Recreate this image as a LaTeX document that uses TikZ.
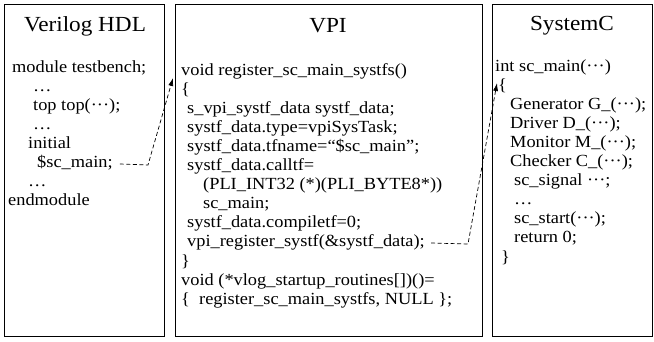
\documentclass[tikz,border=0pt]{standalone}
\usepackage{fontspec}
\setmainfont[FakeStretch=1.08]{Liberation Serif}
\usetikzlibrary{arrows.meta}
\tikzset{
  panel/.style={draw, line width=.9pt},
  title/.style={inner sep=0pt, font=\fontsize{21.5}{23}\selectfont},
  code/.style={anchor=west, inner sep=0pt, text height=12pt, text depth=4pt,
    font=\fontsize{17}{19}\selectfont},
  link/.style={line width=.7pt, dash pattern=on 4pt off 2.5pt,
    -{Latex[length=8pt,width=5pt]}},
}
\newcommand{\dd}{···}

\begin{document}
\begin{tikzpicture}[x=1pt,y=-1pt]
    \useasboundingbox (0,0) rectangle (654,342);
    \draw[panel] (4,4) rectangle (164,336);
    \draw[panel] (175,4) rectangle (482,336);
    \draw[panel] (492,4) rectangle (652,336);
    \node[title] (tv) at (85,26) {Verilog HDL};
    \node[title] (tp) at (328,26) {VPI};
    \node[title] (ts) at (572,26) {SystemC};
    % Verilog
    \node[code] (v1) at (12,69) {module testbench;};
    \node[code] (v2) at (33,88) {\dots};
    \node[code] (v3) at (33,107) {top top(\dd);};
    \node[code] (v4) at (33,126) {\dots};
    \node[code] (v5) at (28,145) {initial};
    \node[code] (v6) at (37,164) {\$sc\_main;};
    \node[code] (v7) at (28,183) {\dots};
    \node[code] (v8) at (8,202) {endmodule};
    % VPI
    \node[code] (p1) at (181,72) {void register\_sc\_main\_systfs()};
    \node[code] (p2) at (181,91) {\{};
    \node[code] (p3) at (187,110) {s\_vpi\_systf\_data systf\_data;};
    \node[code] (p4) at (187,129) {systf\_data.type=vpiSysTask;};
    \node[code] (p5) at (187,148) {systf\_data.tfname=“\$sc\_main”;};
    \node[code] (p6) at (187,167) {systf\_data.calltf=};
    \node[code] (p7) at (203,186) {(PLI\_INT32 (*)(PLI\_BYTE8*))};
    \node[code] (p8) at (203,205) {sc\_main;};
    \node[code] (p9) at (187,224) {systf\_data.compiletf=0;};
    \node[code] (p10) at (187,243) {vpi\_register\_systf(\&systf\_data);};
    \node[code] (p11) at (181,262) {\}};
    \node[code] (p12) at (181,281) {void (*vlog\_startup\_routines[])()=};
    \node[code] (p13) at (181,300) {\{\ \ register\_sc\_main\_systfs, NULL \};};
    % SystemC
    \node[code] (s1) at (495,68) {int sc\_main(\dd)};
    \node[code] (s2) at (498,87) {\{};
    \node[code] (s3) at (510,106) {Generator G\_(\dd);};
    \node[code] (s4) at (510,125) {Driver D\_(\dd);};
    \node[code] (s5) at (510,144) {Monitor M\_(\dd);};
    \node[code] (s6) at (510,163) {Checker C\_(\dd);};
    \node[code] (s7) at (514,182) {sc\_signal \dd;};
    \node[code] (s8) at (514,201) {\dots};
    \node[code] (s9) at (514,220) {sc\_start(\dd);};
    \node[code] (s10) at (514,239) {return 0;};
    \node[code] (s11) at (501,258) {\}};
    % calls
    \coordinate (k1) at (148,165);
    \coordinate (k2) at (468,244);
    \draw[link] ([xshift=7pt]v6.east) -- (k1) -- ([xshift=-8pt,yshift=-6pt]p1.west);
    \draw[link] ([xshift=6pt]p10.east) -- (k2) -- ([xshift=2pt,yshift=-15pt]s1.west);
\end{tikzpicture}
\end{document}
